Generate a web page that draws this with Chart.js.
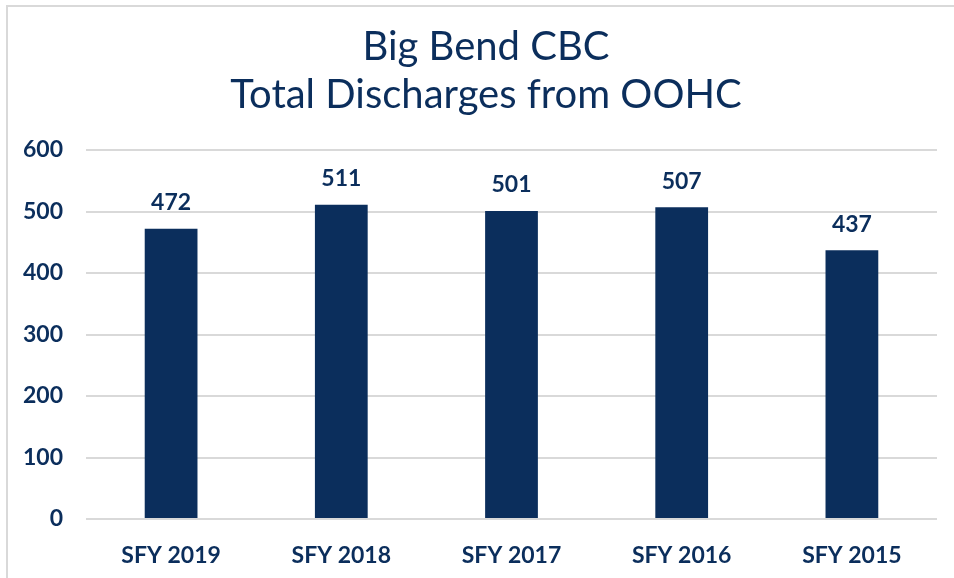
<!DOCTYPE html>
<html>
<head>
<meta charset="utf-8">
<script src="https://cdn.jsdelivr.net/npm/chart.js@4.4.1/dist/chart.umd.min.js"></script>
<style>
    html, body { margin: 0; padding: 0; background: #fff; overflow: hidden; }
    #frame {
        position: absolute; left: 6px; top: 5px; width: 1000px; height: 700px;
        border: 2px solid #d9d9d9; box-sizing: border-box;
    }
    #wrap { position: absolute; left: 0; top: 0; width: 954px; height: 578px; }
</style>
</head>
<body>
<div id="frame"></div>
<div id="wrap"><canvas id="chart" width="954" height="578"></canvas></div>
<script>
const titleLines = ["Big Bend CBC", "Total Discharges from OOHC"];
const years = ["SFY 2019", "SFY 2018", "SFY 2017", "SFY 2016", "SFY 2015"];
const discharges = [472, 511, 501, 507, 437];
const yTicks = [0, 100, 200, 300, 400, 500, 600];

const NAVY = "#0b2e5c";
const FONT = "Lato, 'Open Sans', sans-serif";

// draws the value above each bar
const valueLabels = {
    id: "valueLabels",
    afterDatasetsDraw(chart) {
        const ctx = chart.ctx;
        const meta = chart.getDatasetMeta(0);
        ctx.save();
        ctx.fillStyle = NAVY;
        ctx.font = `bold 23px ${FONT}`;
        ctx.textAlign = "center";
        ctx.textBaseline = "middle";
        meta.data.forEach((bar, i) => {
            ctx.fillText(String(discharges[i]), bar.x, bar.y - 26);
        });
        ctx.restore();
    },
};

// the original title sits a little right of the canvas centre
const nudgeTitle = {
    id: "nudgeTitle",
    afterLayout(chart) {
        if (chart.titleBlock) chart.titleBlock.left += 35;
    },
};

Chart.defaults.font.family = FONT;
Chart.defaults.color = NAVY;

new Chart(document.getElementById("chart"), {
    type: "bar",
    data: {
        labels: years,
        datasets: [
            {
                label: "Total Discharges",
                data: discharges,
                backgroundColor: NAVY,
                barPercentage: 0.31,
                categoryPercentage: 1,
            },
        ],
    },
    options: {
        responsive: false,
        animation: false,
        layout: { padding: { left: 0, right: 17, top: 0, bottom: 0 } },
        plugins: {
            legend: { display: false },
            tooltip: { enabled: false },
            title: {
                display: true,
                text: titleLines,
                color: NAVY,
                font: { size: 40, weight: "normal", lineHeight: 48 / 40 },
                padding: { top: 23, bottom: 31 },
            },
        },
        scales: {
            x: {
                grid: { display: false },
                border: { display: false },
                ticks: { color: NAVY, font: { size: 23, weight: "bold" }, padding: 15 },
                afterFit: (s) => { s.height = 59; },
            },
            y: {
                min: yTicks[0],
                max: yTicks[yTicks.length - 1],
                afterBuildTicks: (s) => { s.ticks = yTicks.map((v) => ({ value: v })); },
                grid: { color: "#d9d9d9", lineWidth: 2, drawTicks: false },
                border: { display: false },
                ticks: { color: NAVY, font: { size: 23, weight: "bold" }, padding: 23 },
                afterFit: (s) => { s.width = 86; },
            },
        },
    },
    plugins: [valueLabels, nudgeTitle],
});
</script>
</body>
</html>
